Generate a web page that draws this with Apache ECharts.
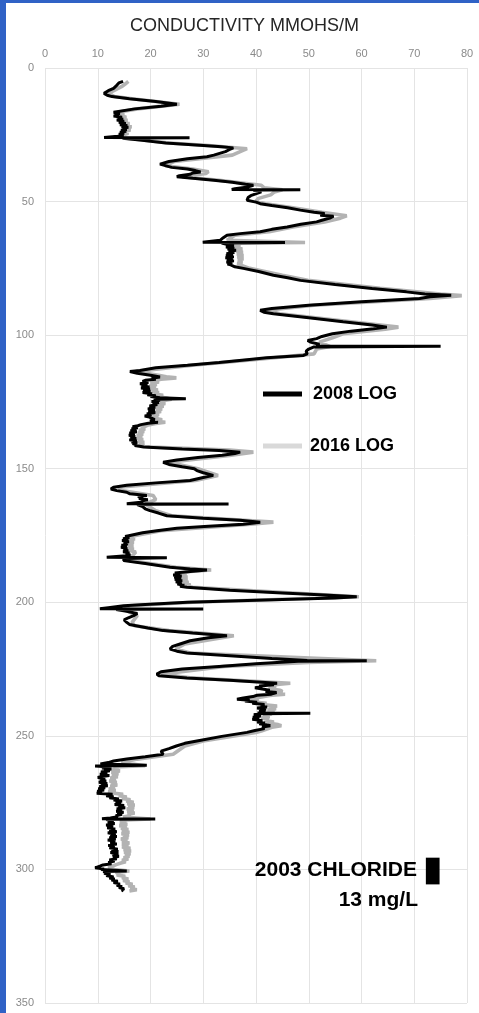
<!DOCTYPE html>
<html>
<head>
<meta charset="utf-8">
<script src="https://cdn.jsdelivr.net/npm/echarts@6/dist/echarts.min.js"></script>
<style>
  html, body { margin: 0; padding: 0; background: #fff; }
  #chart { position: absolute; left: 0; top: 0; width: 479px; height: 1013px; }
  #bl { position: absolute; left: 0; top: 0; width: 6px; height: 1013px; background: #3062c6; }
  #bt { position: absolute; left: 0; top: 0; width: 479px; height: 3px; background: #3062c6; }
</style>
</head>
<body>
<div id="chart"></div>
<div id="bl"></div>
<div id="bt"></div>
<script>
// ---- data: [depth, conductivity] ----
const log2008 = [
[5.0,14.8],[5.6,14.0],[6.5,13.6],[7.6,13.0],[8.5,12.0],[9.5,11.2],[10.2,11.8],[10.7,12.7],[11.5,16.0],[12.5,21.0],
[13.6,25.0],[14.3,22.0],[15.3,17.0],
[16.6,13.0],[17.0,14.2],[17.3,13.2],[17.7,14.0],[18.0,13.0],[18.4,14.6],[18.8,13.8],[19.2,14.8],[19.5,13.6],[19.9,15.0],
[20.3,14.0],[20.8,15.3],[21.2,14.2],[21.5,15.6],[21.9,14.5],[22.2,15.8],[22.6,14.6],[23.0,15.5],[23.3,14.4],[23.7,15.4],
[24.0,14.2],[24.4,15.0],[24.8,14.0],[25.2,14.9],[25.5,13.8],[25.8,13.5],[26.0,11.2],[26.1,27.4],
[26.3,14.7],[27.0,18.0],[28.1,22.9],[29.0,30.0],[29.5,33.5],[29.9,35.7],[30.5,35.0],[31.3,34.2],[32.0,34.5],[32.6,32.0],
[33.2,30.7],[34.0,27.0],[35.0,23.5],[36.0,21.8],[36.6,22.0],[37.2,24.0],[37.8,27.0],[38.4,28.5],[38.9,29.5],[39.3,28.0],
[39.8,27.5],[40.3,25.5],[40.7,25.0],[41.3,28.0],[42.0,32.0],[42.8,35.5],[43.5,38.0],[43.9,39.5],[44.5,38.5],[45.2,36.0],
[45.5,35.4],[45.6,48.4],[45.8,39.5],[46.4,41.0],[47.0,40.8],[47.8,39.0],[48.5,38.5],[49.5,38.3],[50.2,40.0],[50.8,40.8],
[51.5,43.0],[52.3,46.0],[53.2,48.4],[54.0,51.0],[54.5,53.0],[55.1,52.2],[55.5,54.7],[56.2,54.0],[57.0,52.5],[57.6,51.5],
[58.5,48.5],[59.5,45.9],[60.4,43.0],[61.3,40.8],[62.0,37.0],[62.6,34.5],[63.5,33.8],[64.5,33.2],[65.2,29.9],[65.3,45.5],
[65.5,33.5],[66.2,34.8],[66.6,35.8],[67.0,34.3],[67.4,35.9],[67.8,34.6],[68.2,36.2],[68.7,34.8],[69.1,35.9],[69.5,34.4],
[69.9,35.6],[70.3,34.3],[70.7,35.8],[71.0,34.2],[71.4,35.6],[71.8,34.5],[72.2,35.8],[72.6,34.4],[73.0,35.5],[73.4,34.6],
[73.7,35.2],[74.4,36.0],[75.0,37.6],[76.2,40.5],[77.6,43.3],[78.5,46.0],[79.5,48.4],[81.0,55.0],[82.5,62.0],[83.8,68.5],
[84.6,72.0],[85.1,77.0],[85.6,73.0],[86.3,71.0],[87.5,60.0],[88.8,50.0],[90.0,43.0],[90.7,40.8],[91.4,41.5],[92.0,43.3],
[93.5,50.0],[95.0,56.5],[96.2,62.0],[97.0,64.8],[97.6,62.3],[98.5,58.0],[99.5,54.5],[100.5,52.5],[101.3,51.5],[102.0,49.8],
[102.6,50.3],[103.4,52.0],[104.1,51.5],[104.2,75.0],[104.4,51.0],[105.2,50.0],[106.0,49.5],[107.0,49.7],[107.6,49.0],[108.5,42.0],
[109.2,38.3],[110.2,33.0],[111.3,27.0],[112.2,21.0],[113.2,18.0],[113.6,16.1],[114.3,17.5],[115.0,20.0],
[115.7,21.8],[116.1,20.2],[116.5,21.0],[116.9,19.0],[117.3,18.5],[117.7,19.6],[118.2,18.0],[118.6,19.4],[119.0,18.3],[119.4,19.8],
[119.8,18.2],[120.2,19.9],[120.6,18.6],[121.0,20.0],[121.5,18.5],[121.9,20.3],[122.3,19.4],[122.7,21.0],[123.0,20.0],[123.4,21.8],
[123.8,26.7],[124.0,20.6],[124.4,21.8],[124.8,20.2],[125.2,21.6],[125.6,20.4],[126.0,21.3],[126.5,19.8],[127.0,20.9],[127.6,19.5],
[128.0,20.8],[128.5,19.6],[129.0,20.9],[129.4,19.3],[129.9,20.2],[130.3,18.9],[130.7,19.8],[131.2,19.6],[131.6,20.8],[132.1,19.9],
[132.6,21.4],[133.0,19.6],[133.5,18.2],[133.9,17.6],[134.3,16.6],[134.7,17.6],[135.0,16.4],[135.4,17.3],[135.8,16.2],[136.2,17.4],
[136.6,16.0],[137.0,17.0],[137.5,15.9],[137.9,17.1],[138.3,16.2],[138.7,17.3],[139.2,16.0],[139.6,17.4],[140.0,16.4],[140.3,17.5],
[140.6,16.6],[141.0,17.4],[141.3,17.0],[141.6,17.9],[141.9,18.7],
[142.6,26.0],[143.2,33.0],[143.8,37.0],[144.3,36.0],[145.0,33.6],[145.8,29.0],[146.7,25.0],[147.6,22.4],
[148.4,23.5],[149.3,26.0],[150.0,28.3],[150.7,28.8],[151.5,30.0],[152.5,31.9],[153.3,30.0],[154.4,27.5],[155.3,21.0],[156.2,15.5],
[156.9,13.0],[157.6,12.5],[158.2,13.6],[158.8,15.5],[159.4,16.1],[160.0,19.3],[160.4,17.6],[160.8,18.6],[161.2,17.8],[161.6,19.5],
[162.1,18.2],[162.5,18.6],[163.1,15.5],
[163.2,34.8],[163.4,17.5],[164.2,18.5],[165.0,19.0],[165.7,19.9],[166.6,21.5],[167.6,23.1],[168.5,30.0],[169.3,37.0],[170.0,40.8],
[170.8,37.6],[171.5,31.0],[172.3,25.0],[173.2,21.2],[174.0,18.5],
[175.0,16.1],[175.4,15.2],[175.8,16.0],[176.2,14.8],[176.6,15.8],[176.9,14.6],[177.3,15.9],[177.8,14.9],[178.2,15.7],[178.6,14.5],
[179.0,15.5],[179.4,14.4],[179.8,15.6],[180.3,14.9],[180.7,15.8],[181.1,14.8],[181.5,16.0],[181.9,15.3],[182.3,16.2],[182.6,15.4],
[183.1,11.7],[183.3,23.1],[183.6,15.0],[184.4,14.9],[185.5,19.0],
[186.9,23.7],[187.5,27.5],[187.9,30.7],[188.6,27.0],[189.0,24.6],[189.4,25.6],[189.8,24.3],[190.2,25.9],[190.6,24.5],[191.0,25.8],
[191.4,24.6],[191.9,26.0],[192.3,24.8],[192.8,25.9],[193.2,25.1],[193.6,26.4],[194.0,25.6],[194.4,26.9],
[195.5,35.0],[196.5,45.0],[197.3,53.0],[197.9,59.1],[198.4,55.0],[199.2,40.0],[200.0,27.0],[200.8,19.0],[201.3,14.9],
[202.0,12.0],[202.4,10.4],[202.5,30.0],[202.7,13.5],[203.4,15.5],[204.2,17.5],[205.0,16.8],[205.8,15.8],[206.6,15.0],[207.5,15.5],
[208.3,16.0],[208.8,16.1],[209.6,19.5],[210.6,22.4],[211.5,28.0],[212.5,34.5],[213.3,31.0],[214.4,27.5],[215.6,25.6],[216.5,24.2],
[217.5,23.7],[218.3,25.0],[219.0,26.9],[220.0,35.0],[221.0,43.0],[221.8,49.7],[221.9,61.0],[222.1,48.0],[223.0,40.0],[224.0,33.0],
[225.0,26.0],[226.0,22.0],[226.9,21.2],[227.5,21.6],[228.3,26.9],[229.2,35.0],
[230.3,44.0],[230.6,42.2],[230.9,43.4],[231.3,40.6],[231.6,41.2],[232.0,39.8],[232.5,41.2],[232.9,42.6],[233.4,41.8],[233.8,43.9],
[234.4,42.9],[234.8,40.2],[235.3,39.4],[235.8,37.6],[236.3,36.4],[236.7,38.8],[237.0,37.9],[237.4,40.2],[237.8,39.3],[238.3,41.6],
[238.8,40.9],[239.2,42.1],[239.6,40.2],[240.0,41.9],[240.5,40.6],[240.9,41.8],[241.4,40.3],[241.5,50.3],[241.7,40.6],[242.1,39.6],
[242.6,40.9],[243.0,39.4],[243.4,40.6],[243.8,39.3],[244.3,41.2],[244.8,40.2],[245.2,41.7],[245.5,40.6],[245.9,42.2],[246.2,42.7],
[246.7,41.2],[247.3,41.6],[248.0,39.8],[248.7,38.3],
[250.2,33.5],[251.9,28.8],[252.8,26.5],[253.8,24.9],[254.8,23.5],[255.7,22.0],[256.9,22.4],[257.8,19.0],[258.7,15.5],
[259.4,13.0],[260.0,12.0],[260.5,10.5],[261.0,19.3],[261.3,9.5],[261.7,12.0],[262.0,10.8],[262.4,12.6],[262.8,11.2],[263.1,12.3],
[263.5,10.6],[264.0,11.8],[264.4,10.4],[264.8,12.2],[265.2,10.8],[265.6,10.0],[266.0,11.4],[266.5,10.4],[266.9,11.6],[267.4,10.2],
[267.8,11.8],[268.3,10.6],[268.7,11.9],[269.0,10.3],[269.4,11.4],[269.8,10.1],[270.3,11.2],[270.7,9.9],[271.2,10.8],[271.5,9.8],
[271.9,12.8],[272.4,11.6],[272.8,13.0],[273.2,12.2],[273.6,14.0],[274.0,13.0],[274.4,14.6],[274.9,13.4],[275.3,14.4],[275.7,13.2],
[276.1,15.0],[276.5,13.9],[276.9,15.2],[277.3,13.6],[277.8,14.6],[278.2,13.5],[278.6,14.9],[279.0,13.7],[279.4,14.6],[279.9,13.4],
[280.3,13.8],[280.7,12.4],[281.0,10.8],[281.1,20.9],[281.3,11.6],[281.8,13.0],[282.3,11.9],[282.8,13.2],[283.4,11.6],[283.9,12.9],
[284.4,11.8],[284.9,13.3],[285.4,12.2],[285.9,13.6],[286.3,11.9],[286.8,13.4],[287.2,12.4],[287.7,13.6],[288.1,12.2],[288.6,13.4],
[289.0,11.9],[289.5,13.3],[290.0,12.4],[290.5,13.6],[291.0,12.0],[291.5,13.2],[291.9,12.2],[292.4,13.8],[292.8,12.6],[293.3,13.9],
[293.7,12.4],[294.2,13.9],[294.6,12.8],[295.1,14.0],[295.6,12.9],[296.0,13.6],[296.5,12.2],[296.9,13.2],[297.4,12.0],[297.9,12.6],
[298.3,11.0],[298.8,10.4],[299.4,9.5],[299.8,11.2],[300.0,10.6],[300.6,15.5],[300.8,11.0],[301.0,12.0],[301.4,11.2],[301.9,12.4],
[302.3,11.6],[302.8,13.0],[303.2,12.2],[303.6,13.2],[304.0,12.6],[304.4,13.8],[304.9,13.0],[305.4,14.2],[305.9,13.6],[306.4,14.6],
[306.8,14.0],[307.2,15.0],[307.7,14.6],[308.1,14.9]
];
const log2016 = [
[5.0,15.8],[6.0,15.2],[7.0,14.5],[8.0,13.5],[9.5,12.0],[10.7,13.2],[11.5,16.5],[13.6,25.5],[15.3,17.5],
[16.6,13.8],[17.2,15.0],[17.8,14.2],[18.4,15.4],[19.0,14.5],[19.6,15.6],[20.2,14.8],[20.8,16.0],[21.4,15.0],[22.0,16.4],
[22.6,15.2],[23.2,16.2],[23.8,15.0],[24.4,15.8],[25.0,14.8],[25.8,14.5],
[26.3,15.5],[28.1,23.5],[29.0,31.0],
[30.2,38.3],[31.3,37.0],[32.6,35.5],[33.5,31.5],[35.0,24.5],[36.6,22.8],[37.8,28.0],[38.8,31.0],[39.5,30.5],[40.7,26.0],
[42.0,33.0],[43.9,41.0],[44.8,41.5],[45.6,45.0],[46.4,43.5],[47.5,42.8],[48.8,40.5],[49.8,40.0],[50.8,41.8],[52.3,47.0],
[54.0,52.5],[55.3,57.2],[56.2,56.0],[57.6,53.0],[59.5,47.0],[61.3,42.5],[62.6,36.0],[64.5,34.5],[65.3,49.3],[65.6,35.0],
[66.0,36.0],[66.6,37.0],[67.2,36.0],[67.8,37.4],[68.4,36.2],[69.0,37.5],[69.6,36.4],[70.2,37.6],[70.8,36.5],[71.4,37.6],
[72.0,36.6],[72.6,37.4],[73.2,36.5],[73.7,37.0],
[75.0,38.8],[77.6,45.0],[79.5,49.8],[82.5,63.5],[84.6,75.0],
[85.2,79.0],[86.3,73.0],[88.8,51.0],[90.7,42.0],[92.0,44.5],[95.0,58.0],[97.0,67.0],[97.8,64.5],[99.5,56.5],[101.0,54.5],
[102.6,52.0],[104.2,54.0],[105.2,51.5],[107.0,51.0],[109.2,39.5],[111.3,28.0],[113.2,19.0],[113.6,17.2],
[115.0,21.5],[115.6,23.0],[116.0,24.9],[116.5,22.0],[117.0,20.8],[117.5,21.6],[118.0,20.0],[118.5,21.2],[119.0,19.8],[119.5,21.0],
[120.0,20.0],[120.5,21.4],[121.0,20.2],[121.5,21.6],[122.0,20.6],[122.5,22.4],[123.0,21.4],[123.5,23.0],[124.0,24.0],[124.5,22.6],
[125.0,21.8],[125.6,22.8],[126.1,21.5],[126.6,22.5],[127.1,21.0],[127.6,22.2],[128.1,21.0],[128.6,22.0],[129.1,20.6],[129.6,21.6],
[130.1,20.4],[130.7,21.4],[131.2,21.0],[131.7,22.2],[132.2,21.4],[132.6,22.8],[133.1,21.0],[133.6,19.6],[134.1,19.0],[134.6,18.2],
[135.1,19.0],[135.6,17.8],[136.1,18.8],[136.6,17.6],[137.1,18.6],[137.6,17.4],[138.1,18.4],[138.6,17.4],[139.1,18.6],[139.6,17.6],
[140.1,18.8],[140.6,17.8],[141.1,18.8],[141.5,18.4],[141.9,20.0],
[143.0,35.0],[143.8,39.5],[145.0,35.0],
[147.6,23.4],[150.0,29.0],[152.5,32.8],[154.4,28.5],[156.9,14.0],[158.2,14.5],[160.0,20.5],[161.6,21.0],[163.2,19.0],[165.7,21.0],
[167.6,24.0],[170.0,43.3],[170.8,39.0],[173.2,22.0],
[175.0,17.2],[175.6,16.2],[176.2,17.0],[176.9,16.0],[177.5,16.8],[178.1,15.8],[178.7,16.7],[179.4,15.8],[180.0,16.8],[180.6,16.0],
[181.2,17.2],[181.9,17.0],[182.5,16.6],[183.3,16.5],[184.4,16.0],
[186.9,24.8],[187.9,31.5],[188.5,27.5],[189.0,26.0],[189.5,26.8],[190.0,25.6],[190.5,27.0],[191.0,25.8],[191.5,27.0],[192.0,26.0],
[192.5,27.2],[193.0,26.4],[193.5,27.6],[194.0,27.0],[194.4,28.0],
[197.9,59.5],[200.0,28.0],[201.3,16.0],[202.7,15.0],[205.0,17.5],
[207.5,16.5],[208.8,17.0],[210.6,23.5],[212.5,35.8],[215.6,26.5],[217.5,24.8],[219.0,27.5],[221.9,62.8],[222.5,50.0],[224.0,34.0],
[226.9,22.0],[228.3,27.5],
[230.3,46.5],[230.8,44.0],[231.3,42.6],[231.8,43.8],[232.4,42.4],[232.9,44.6],[233.4,45.0],[233.9,43.5],[234.4,45.5],[234.9,42.6],
[235.5,40.8],[236.3,38.0],[236.8,40.5],[237.3,39.6],[237.8,42.0],[238.3,41.2],[238.8,44.0],[239.3,42.4],[239.8,43.8],[240.3,42.2],
[240.8,43.5],[241.3,42.0],[241.8,43.0],[242.3,41.4],[242.8,42.6],[243.3,41.0],[243.8,42.4],[244.3,41.6],[244.8,43.4],[245.3,42.4],
[245.8,44.2],[246.2,44.8],[246.8,43.0],[247.5,42.8],[248.2,41.0],[248.7,40.0],
[251.9,30.0],[253.8,26.5],[256.9,24.3],[258.7,17.5],
[260.0,14.5],[261.2,19.0],[261.6,13.0],[262.0,14.0],[262.5,12.8],[263.1,14.2],[263.6,12.6],[264.2,13.9],[264.8,12.7],[265.3,13.8],
[265.8,12.4],[266.4,13.4],[266.9,12.2],[267.4,13.6],[267.9,12.5],[268.4,13.7],[268.9,12.4],[269.4,13.2],[269.9,12.1],[270.4,13.4],
[270.9,12.0],[271.4,12.8],[271.9,14.8],[272.4,14.0],[272.9,15.5],[273.4,14.6],[273.9,16.2],[274.4,15.4],[274.9,16.8],[275.4,15.6],
[275.9,17.0],[276.4,15.8],[276.9,16.9],[277.4,15.5],[277.9,16.8],[278.4,15.6],[278.9,17.0],[279.4,15.7],[279.9,16.2],[280.4,14.8],
[281.1,20.0],[281.6,14.2],[282.1,15.4],[282.6,14.2],[283.1,15.6],[283.6,14.1],[284.1,15.5],[284.6,14.4],[285.1,15.8],[285.6,14.6],
[286.1,16.0],[286.6,14.5],[287.1,15.9],[287.6,14.8],[288.1,15.8],[288.6,14.4],[289.1,15.6],[289.6,14.6],[290.1,16.0],[290.6,14.6],
[291.1,15.8],[291.6,14.6],[292.1,16.2],[292.6,14.9],[293.1,16.3],[293.6,15.0],[294.1,16.2],[294.6,15.2],[295.1,16.0],[295.6,14.9],
[296.1,15.8],[296.6,14.6],[297.1,15.3],[297.6,14.4],[298.2,13.5],[298.8,12.8],[299.4,12.0],[300.0,13.2],[300.6,16.0],[301.1,13.4],
[301.6,14.2],[302.1,13.6],[302.6,15.2],[303.1,14.6],[303.6,15.8],[304.1,14.8],[304.6,16.0],[305.1,15.3],[305.6,16.6],[306.1,15.8],
[306.6,17.0],[307.1,16.2],[307.6,17.4],[308.1,16.0]
];
const seriesNames = ['2008 LOG', '2016 LOG'];
const chlorideDepths = [295.6, 305.6];
const chlorideCond = [72.2, 74.8];
const chlorideText = ['2003 CHLORIDE', '13 mg/L'];
const titleText = 'CONDUCTIVITY MMOHS/M';

const toXY = arr => arr.map(p => [p[1], p[0]]);

const chart = echarts.init(document.getElementById('chart'), null, { renderer: 'canvas' });
const font = '"Liberation Sans", Arial, sans-serif';
chart.setOption({
  animation: false,
  backgroundColor: '#fff',
  title: {
    text: titleText, left: 130, top: 17, padding: 0,
    textStyle: { fontFamily: font, fontSize: 18, fontWeight: 'normal', color: '#262626' }
  },
  grid: { left: 45, right: 12, top: 68, bottom: 10 },
  xAxis: {
    type: 'value', position: 'top', min: 0, max: 80, interval: 10,
    axisLine: { show: false }, axisTick: { show: false },
    axisLabel: { color: '#8a8a8a', fontSize: 11, fontFamily: font, margin: 9 },
    splitLine: { show: true, lineStyle: { color: '#e4e4e4', width: 1 } }
  },
  yAxis: {
    type: 'value', inverse: true, min: 0, max: 350, interval: 50,
    axisLine: { show: false }, axisTick: { show: false },
    axisLabel: { color: '#8a8a8a', fontSize: 11, fontFamily: font, margin: 11 },
    splitLine: { show: true, lineStyle: { color: '#e4e4e4', width: 1 } }
  },
  legend: [
    { data: [seriesNames[0]], left: 263, top: 385, padding: 0, icon: 'rect', itemWidth: 39, itemHeight: 5,
      textStyle: { fontFamily: font, fontSize: 18, fontWeight: 'bold', color: '#000', padding: [0, 0, 0, 6] } },
    { data: [{ name: seriesNames[1], itemStyle: { color: '#d9d9d9' } }], left: 263, top: 437, padding: 0, icon: 'rect', itemWidth: 39, itemHeight: 5,
      textStyle: { fontFamily: font, fontSize: 18, fontWeight: 'bold', color: '#000', padding: [0, 0, 0, 3] } }
  ],
  series: [
    {
      name: seriesNames[1], type: 'line', data: toXY(log2016), symbol: 'none', showSymbol: false,
      itemStyle: { color: '#b3b3b3' }, lineStyle: { color: '#b3b3b3', width: 3.6 }, z: 2
    },
    {
      name: seriesNames[0], type: 'line', data: toXY(log2008), symbol: 'none', showSymbol: false,
      itemStyle: { color: '#000' }, lineStyle: { color: '#000', width: 3 }, z: 3,
      markArea: {
        silent: true, itemStyle: { color: '#000' },
        data: [[ { coord: [chlorideCond[0], chlorideDepths[0]] }, { coord: [chlorideCond[1], chlorideDepths[1]] } ]]
      }
    }
  ],
  graphic: [
    { type: 'text', x: 417, y: 870, z: 100, style: { text: chlorideText[0], align: 'right', verticalAlign: 'middle', fontFamily: font, fontSize: 21, fontWeight: 'bold', fill: '#000' } },
    { type: 'text', x: 418, y: 900, z: 100, style: { text: chlorideText[1], align: 'right', verticalAlign: 'middle', fontFamily: font, fontSize: 21, fontWeight: 'bold', fill: '#000' } }
  ]
});
</script>
</body>
</html>
